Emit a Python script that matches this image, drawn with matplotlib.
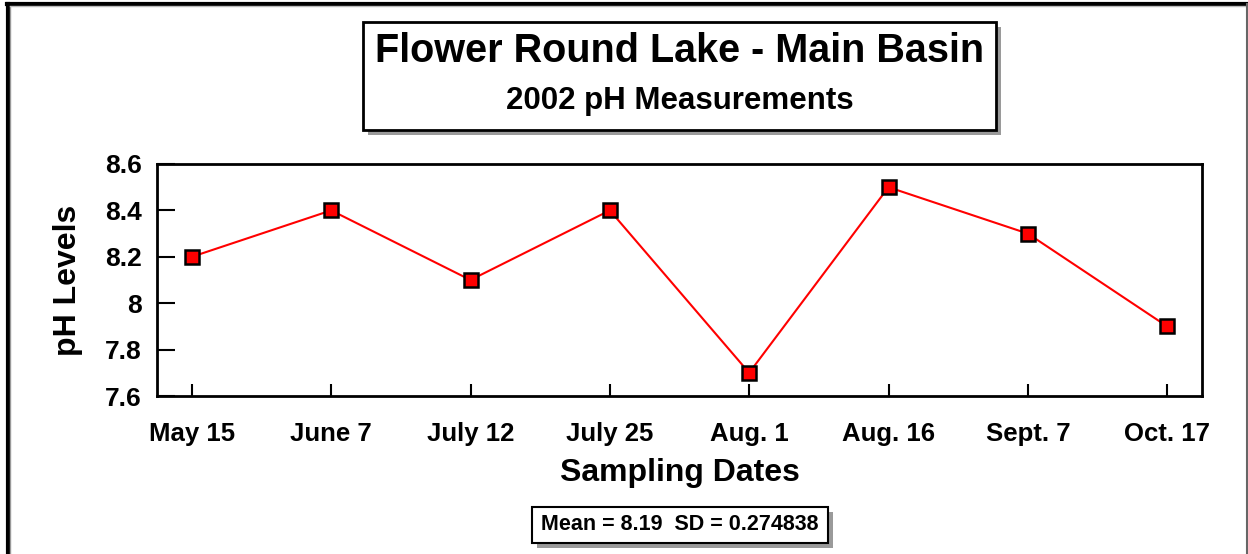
import numpy as np
import matplotlib.pyplot as plt
from matplotlib.patches import Rectangle
from matplotlib.lines import Line2D

dates = ['May 15', 'June 7', 'July 12', 'July 25', 'Aug. 1', 'Aug. 16', 'Sept. 7', 'Oct. 17']
ph = [8.2, 8.4, 8.1, 8.4, 7.7, 8.5, 8.3, 7.9]
y_ticks = [7.6, 7.8, 8.0, 8.2, 8.4, 8.6]
y_tick_labels = ['7.6', '7.8', '8', '8.2', '8.4', '8.6']
title = 'Flower Round Lake - Main Basin'
subtitle = '2002 pH Measurements'

plt.rcParams['font.family'] = ['Liberation Sans', 'DejaVu Sans']
plt.rcParams['font.weight'] = 'bold'

W, H = 1248, 554
fig = plt.figure(figsize=(W / 100, H / 100), dpi=100)


def px_box(x0, y0, x1, y1):
    # pixel coords (top-left origin) -> figure fraction
    return x0 / W, 1 - y1 / H, (x1 - x0) / W, (y1 - y0) / H


def shadow_box(x0, y0, x1, y1, off=5, lw=2):
    l, b, w, h = px_box(x0 + off, y0 + off, x1 + off, y1 + off)
    fig.patches.append(Rectangle((l, b), w, h, transform=fig.transFigure,
                                 facecolor='#9a9a9a', edgecolor='none', zorder=1))
    l, b, w, h = px_box(x0, y0, x1, y1)
    fig.patches.append(Rectangle((l, b), w, h, transform=fig.transFigure,
                                 facecolor='white', edgecolor='black', linewidth=lw, zorder=2))


# outer frame
fig.lines.append(Line2D([8 / W, 8 / W], [0, 1 - 4 / H], transform=fig.transFigure, color='black', lw=3))
fig.lines.append(Line2D([10 / W, 10 / W], [0, 1 - 6 / H], transform=fig.transFigure, color='#999999', lw=1))
fig.lines.append(Line2D([7 / W, 1247 / W], [1 - 4 / H, 1 - 4 / H], transform=fig.transFigure, color='black', lw=3))
fig.lines.append(Line2D([10 / W, 1246 / W], [1 - 6 / H, 1 - 6 / H], transform=fig.transFigure, color='#bbbbbb', lw=1))
fig.lines.append(Line2D([1246.5 / W, 1246.5 / W], [0, 1 - 4 / H], transform=fig.transFigure, color='#666666', lw=1.5))

# title box
shadow_box(363, 22, 996, 130)
fig.text((363 + 996) / 2 / W, 1 - 51 / H, title, ha='center', va='center',
         fontsize=28.5, fontweight='bold', zorder=3)
fig.text((363 + 996) / 2 / W, 1 - 101 / H, subtitle, ha='center', va='center',
         fontsize=22.5, fontweight='bold', zorder=3)

# stats box
mean = np.mean(ph)
sd = np.std(ph, ddof=1)
shadow_box(532, 507, 828, 543, off=5, lw=1.5)
fig.text((532 + 828) / 2 / W, 1 - 525 / H, 'Mean = %.2f  SD = %.6f' % (mean, sd),
         ha='center', va='center', fontsize=15.5, fontweight='bold', zorder=3)

# main axes
ax = fig.add_axes(px_box(157, 164, 1202, 396))
x = np.arange(len(dates))
ax.plot(x, ph, color='red', lw=1.5, marker='s', markersize=10.5,
        markerfacecolor='red', markeredgecolor='black', markeredgewidth=1.8, zorder=3)
ax.set_xlim(-0.25, 7.25)
ax.set_ylim(7.6, 8.6)
ax.set_xticks(x)
ax.set_xticklabels(dates, fontsize=18.5, fontweight='bold')
ax.set_yticks(y_ticks)
ax.set_yticklabels(y_tick_labels, fontsize=19, fontweight='bold')
ax.tick_params(axis='x', direction='in', length=9, width=1.5, pad=19)
ax.tick_params(axis='y', direction='in', length=13, width=1.5, pad=11)
for s in ax.spines.values():
    s.set_linewidth(2)
ax.set_xlabel('Sampling Dates', fontsize=23, fontweight='bold', labelpad=8)
ax.set_ylabel('pH Levels', fontsize=23, fontweight='bold', labelpad=16)

fig.savefig('out.png', dpi=100)
